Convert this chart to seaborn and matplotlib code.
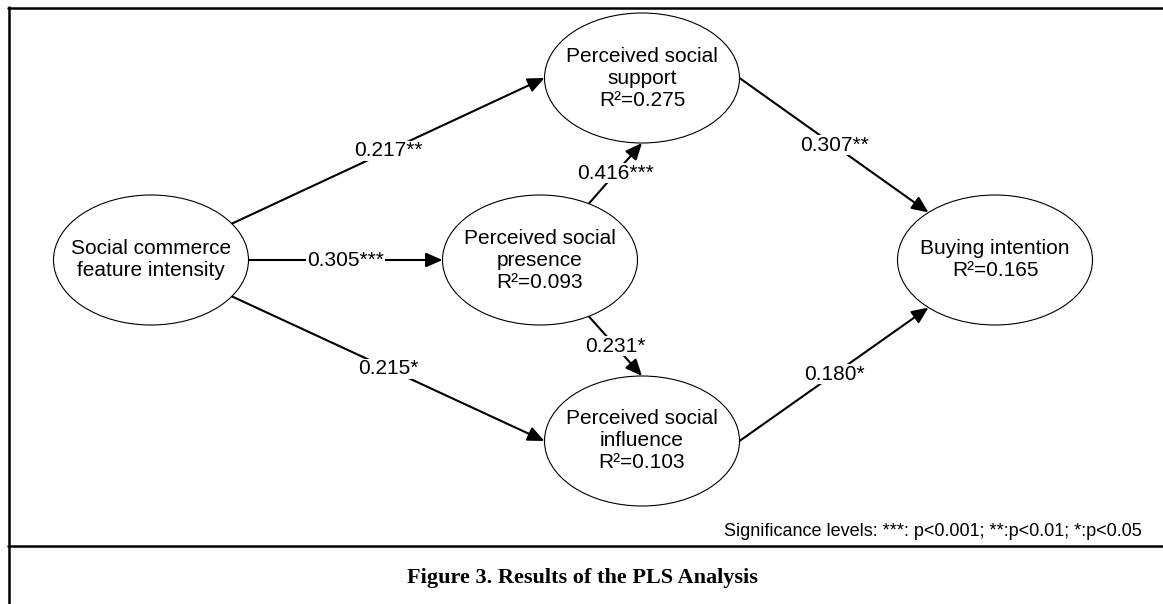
import numpy as np
import matplotlib
matplotlib.use("Agg")
import matplotlib.pyplot as plt
from matplotlib.patches import Ellipse, FancyArrowPatch
import seaborn as sns

# 1. theme / fonts
sns.set_theme(style="white")
plt.rcParams['font.family'] = ['Liberation Sans', 'DejaVu Sans']
plt.rcParams['text.color'] = 'black'

# 2. data: constructs, R², paths
node_names = ["Social commerce\nfeature intensity",
              "Perceived social\nsupport",
              "Perceived social\npresence",
              "Perceived social\ninfluence",
              "Buying intention"]
node_r2 = [None, 0.275, 0.093, 0.103, 0.165]

path_from = [0, 0, 0, 2, 2, 1, 3]
path_to = [1, 2, 3, 1, 3, 4, 4]
path_coef = [0.217, 0.305, 0.215, 0.416, 0.231, 0.307, 0.180]
path_sig = ["**", "***", "*", "***", "*", "**", "*"]

sig_note = "Significance levels: ***: p<0.001; **:p<0.01; *:p<0.05"
caption = "Figure 3. Results of the PLS Analysis"

# 3. layout (pixel canvas)
W, H = 1163, 604
node_xy = [(151, 260), (642, 78), (540, 260), (642, 441), (995, 260)]
ell_w, ell_h = 195, 130
# port angles on the ellipse (degrees, y pointing down) for each path
port_start = [-34, 0, 34, -60, 60, 0, 0]
port_end = [180, 180, 180, 90, -90, -133, 133]


def port(i, ang):
    cx, cy = node_xy[i]
    t = np.deg2rad(ang)
    return cx + ell_w / 2 * np.cos(t), cy + ell_h / 2 * np.sin(t)


fig = plt.figure(figsize=(W / 100, H / 100), dpi=100)
ax = fig.add_axes([0, 0, 1, 1])
ax.set_xlim(0, W)
ax.set_ylim(H, 0)
ax.axis('off')

# frame lines
ax.plot([8, W], [7.5, 7.5], color='black', lw=1.8)
ax.plot([8.5, 8.5], [7, H], color='black', lw=1.8)
ax.plot([8, W], [546, 546], color='black', lw=1.8)

# nodes
for (cx, cy), name, r2 in zip(node_xy, node_names, node_r2):
    ax.add_patch(Ellipse((cx, cy), ell_w, ell_h, facecolor='white',
                         edgecolor='black', lw=0.8, zorder=2))
    txt = name if r2 is None else f"{name}\nR²={r2:.3f}"
    ax.text(cx, cy, txt, ha='center', va='center', fontsize=15,
            linespacing=1.2, zorder=3)

# paths
for k in range(len(path_coef)):
    p0 = port(path_from[k], port_start[k])
    p1 = port(path_to[k], port_end[k])
    arr = FancyArrowPatch(p0, p1, arrowstyle='-|>,head_length=0.5,head_width=0.22',
                          mutation_scale=20, lw=1.5, color='black',
                          shrinkA=0, shrinkB=0, zorder=1)
    ax.add_patch(arr)
    mx, my = (p0[0] + p1[0]) / 2, (p0[1] + p1[1]) / 2
    ax.text(mx, my, f"{path_coef[k]:.3f}{path_sig[k]}", ha='center', va='center',
            fontsize=15, zorder=4,
            bbox=dict(facecolor='white', edgecolor='none', pad=0.5))

ax.text(1142, 532, sig_note, ha='right', va='center', fontsize=13)
ax.text(582, 578, caption, ha='center', va='center', fontsize=16,
        fontweight='bold', family=['Liberation Serif', 'DejaVu Serif'])

fig.savefig('out.png', dpi=100)
